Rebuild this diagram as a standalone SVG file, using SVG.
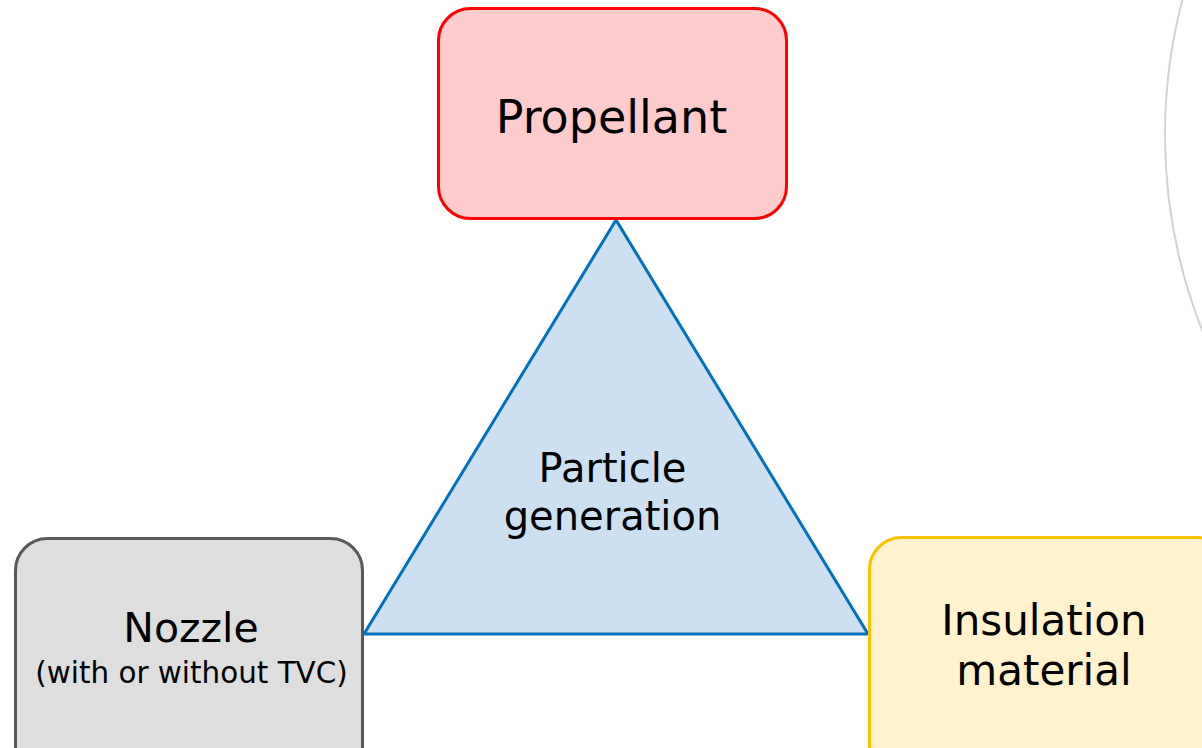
<svg xmlns="http://www.w3.org/2000/svg" width="1202" height="748" viewBox="0 0 1202 748">
<style>
text{font-family:"DejaVu Sans","Liberation Sans",sans-serif;fill:#000;text-anchor:middle}
.box{stroke-width:3}
</style>
<rect width="1202" height="748" fill="#fff"/>
<circle cx="1697" cy="135" r="532" fill="none" stroke="#d3d3d3" stroke-width="2"/>
<g id="connectors">
<polygon points="616,220 364,634 868,634" fill="#cce0f1" stroke="#0070c0" stroke-width="3" stroke-linejoin="miter"/>
</g>
<g id="particle">
<text x="612.5" y="482" font-size="40">Particle</text>
<text x="612.5" y="530" font-size="40">generation</text>
</g>
<g id="propellant">
<rect class="box" x="438.5" y="8.5" width="348" height="210" rx="32" fill="#ffcccd" stroke="#ff0000"/>
<text x="611.5" y="133" font-size="46">Propellant</text>
</g>
<g id="nozzle">
<rect class="box" x="15.5" y="538.5" width="347" height="240" rx="32" fill="#dedede" stroke="#595959"/>
<text x="191" y="642" font-size="41">Nozzle</text>
<text x="191.5" y="683" font-size="29.4">(with or without TVC)</text>
</g>
<g id="insulation">
<rect class="box" x="869.5" y="537.5" width="360" height="240" rx="32" fill="#fff2cc" stroke="#ffc000"/>
<text x="1044" y="635" font-size="42">Insulation</text>
<text x="1044" y="685" font-size="42">material</text>
</g>
</svg>
